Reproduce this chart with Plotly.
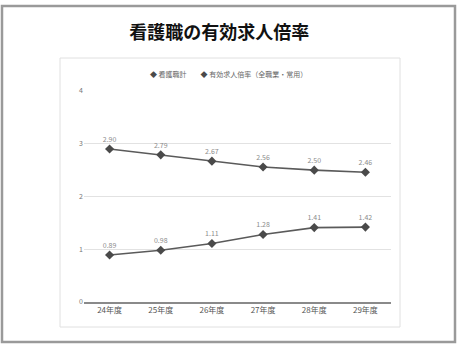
import plotly.graph_objects as go

# 年度ごとの有効求人倍率
years = ["24年度", "25年度", "26年度", "27年度", "28年度", "29年度"]
nursing = [2.90, 2.79, 2.67, 2.56, 2.50, 2.46]
all_jobs = [0.89, 0.98, 1.11, 1.28, 1.41, 1.42]
series_names = ["看護職計", "有効求人倍率（全職業・常用）"]
y_ticks = [0, 1, 2, 3, 4]

FONT = "Noto Sans CJK JP"
LINE = "#5a5a5a"
LABEL = "#8c8c8c"

fig = go.Figure()
for name, vals in zip(series_names, [nursing, all_jobs]):
    fig.add_trace(go.Scatter(
        x=years, y=vals, name=name, showlegend=False,
        mode="lines+markers+text",
        line=dict(color=LINE, width=1.6),
        marker=dict(symbol="diamond", size=7, color="#4a4a4a"),
        text=[f"{v:.2f}" for v in vals],
        textposition="top center",
        textfont=dict(family=FONT, size=7, color=LABEL),
        cliponaxis=False,
    ))

# compact legend line above the plot
legend_text = "　　".join(
    f"<span style='color:#4a4a4a'>◆</span> {n}" for n in series_names)

fig.update_layout(
    width=457, height=344,
    margin=dict(l=84, r=66, t=91, b=42),
    paper_bgcolor="white", plot_bgcolor="white",
    font=dict(family=FONT, color="#555555"),
    title=dict(text="<b>看護職の有効求人倍率</b>", x=0.48, xanchor="center",
               y=1 - 33 / 344, yanchor="middle",
               font=dict(family=FONT, size=18, color="#111111")),
    showlegend=False,
    annotations=[dict(text=legend_text, xref="paper", yref="paper",
                      x=0.47, y=1 + 17 / 211, xanchor="center",
                      yanchor="middle", showarrow=False,
                      font=dict(family=FONT, size=7, color="#666666"))],
    xaxis=dict(type="category", range=[-0.5, 5.5], showgrid=False,
               showline=True, linecolor="#8a8a8a", linewidth=1.5,
               ticks="", tickfont=dict(family=FONT, size=8, color="#555555"),
               zeroline=False),
    yaxis=dict(range=[0, 4], tickvals=y_ticks, showgrid=True,
               gridcolor="#e2e2e2", gridwidth=1, zeroline=False,
               showline=False, ticks="",
               tickfont=dict(family=FONT, size=7, color="#777777")),
    shapes=[
        # outer frame
        dict(type="rect", xref="paper", yref="paper",
             x0=-82 / 307, x1=1 + 64 / 307, y0=-40 / 211, y1=1 + 85 / 211,
             line=dict(color="#9a9a9a", width=2.5)),
        # chart-area frame
        dict(type="rect", xref="paper", yref="paper",
             x0=-24 / 307, x1=1 + 9 / 307, y0=-25 / 211, y1=1 + 33 / 211,
             line=dict(color="#e0e0e0", width=1)),
    ],
)

fig.write_html("out.html")
